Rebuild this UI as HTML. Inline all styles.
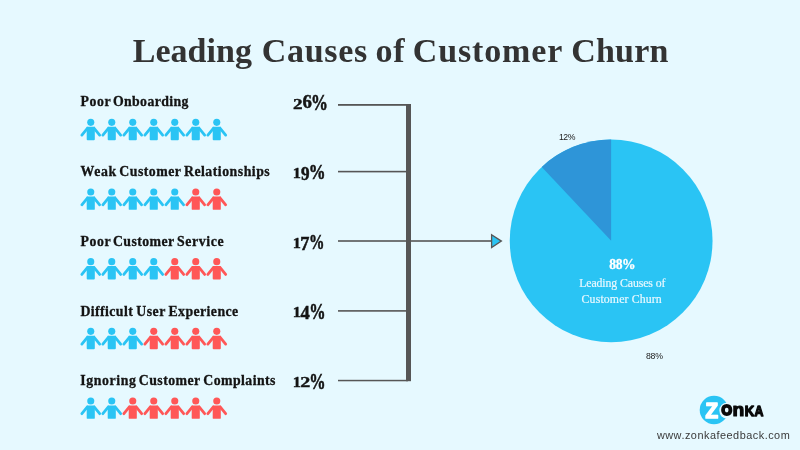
<!DOCTYPE html>
<html><head><meta charset="utf-8"><title>Leading Causes of Customer Churn</title>
<style>
html,body{margin:0;padding:0}
body{width:800px;height:450px;background:#e6f9ff;position:relative;overflow:hidden;font-family:"Liberation Serif",serif}
svg{position:absolute;left:0;top:0;display:block}
</style></head><body>
<svg width="800" height="450" viewBox="0 0 800 450">
<text x="132.75" y="62.25" font-family="'Liberation Serif',serif" font-weight="bold" font-size="34" letter-spacing="0.033" fill="#333" >Leading</text>
<text x="261.85" y="62.25" font-family="'Liberation Serif',serif" font-weight="bold" font-size="34" letter-spacing="0.680" fill="#333" >Causes</text>
<text x="375.6" y="62.25" font-family="'Liberation Serif',serif" font-weight="bold" font-size="34" letter-spacing="0.6" fill="#333">of</text>
<text x="412.75" y="62.25" font-family="'Liberation Serif',serif" font-weight="bold" font-size="34" letter-spacing="0.871" fill="#333" >Customer</text>
<text x="571.25" y="62.25" font-family="'Liberation Serif',serif" font-weight="bold" font-size="34" letter-spacing="0.175" fill="#333" >Churn</text>
<text x="80.45" y="106.20" font-family="'Liberation Serif',serif" font-weight="bold" font-size="13.8" letter-spacing="0.600" fill="#141414" stroke="#141414" stroke-width="0.3">Poor</text>
<text x="112.95" y="106.20" font-family="'Liberation Serif',serif" font-weight="bold" font-size="13.8" letter-spacing="0.367" fill="#141414" stroke="#141414" stroke-width="0.3">Onboarding</text>
<text transform="matrix(1.1286 0 0 0.8578 293.054 108.550)" x="0" y="0" font-family="'Liberation Serif',serif" font-weight="bold" font-size="17" fill="#141414" stroke="#141414" stroke-width="0.45">2</text>
<text transform="matrix(1.1067 0 0 1.0826 302.447 108.429)" x="0" y="0" font-family="'Liberation Serif',serif" font-weight="bold" font-size="17" fill="#141414" stroke="#141414" stroke-width="0.45">6</text>
<text transform="matrix(0.9964 0 0 1.3130 311.056 109.872)" x="0" y="0" font-family="'Liberation Serif',serif" font-weight="bold" font-size="17" fill="#141414" stroke="#141414" stroke-width="0.45">%</text>
<g transform="translate(90.76 122.35)" fill="#2ac4f4" stroke="#2ac4f4" stroke-width="0"><circle r="3.55"/><path d="M-4.05 4.45h8.1v12.5a0.9 0.9 0 0 1 -0.9 0.9h-6.3a0.9 0.9 0 0 1 -0.9 -0.9z"/><path d="M-3.4 6L-8.9 12.75M3.4 6L8.9 12.75" stroke-width="2.8" stroke-linecap="round" fill="none"/></g>
<g transform="translate(111.76 122.35)" fill="#2ac4f4" stroke="#2ac4f4" stroke-width="0"><circle r="3.55"/><path d="M-4.05 4.45h8.1v12.5a0.9 0.9 0 0 1 -0.9 0.9h-6.3a0.9 0.9 0 0 1 -0.9 -0.9z"/><path d="M-3.4 6L-8.9 12.75M3.4 6L8.9 12.75" stroke-width="2.8" stroke-linecap="round" fill="none"/></g>
<g transform="translate(132.76 122.35)" fill="#2ac4f4" stroke="#2ac4f4" stroke-width="0"><circle r="3.55"/><path d="M-4.05 4.45h8.1v12.5a0.9 0.9 0 0 1 -0.9 0.9h-6.3a0.9 0.9 0 0 1 -0.9 -0.9z"/><path d="M-3.4 6L-8.9 12.75M3.4 6L8.9 12.75" stroke-width="2.8" stroke-linecap="round" fill="none"/></g>
<g transform="translate(153.76 122.35)" fill="#2ac4f4" stroke="#2ac4f4" stroke-width="0"><circle r="3.55"/><path d="M-4.05 4.45h8.1v12.5a0.9 0.9 0 0 1 -0.9 0.9h-6.3a0.9 0.9 0 0 1 -0.9 -0.9z"/><path d="M-3.4 6L-8.9 12.75M3.4 6L8.9 12.75" stroke-width="2.8" stroke-linecap="round" fill="none"/></g>
<g transform="translate(174.76 122.35)" fill="#2ac4f4" stroke="#2ac4f4" stroke-width="0"><circle r="3.55"/><path d="M-4.05 4.45h8.1v12.5a0.9 0.9 0 0 1 -0.9 0.9h-6.3a0.9 0.9 0 0 1 -0.9 -0.9z"/><path d="M-3.4 6L-8.9 12.75M3.4 6L8.9 12.75" stroke-width="2.8" stroke-linecap="round" fill="none"/></g>
<g transform="translate(195.76 122.35)" fill="#2ac4f4" stroke="#2ac4f4" stroke-width="0"><circle r="3.55"/><path d="M-4.05 4.45h8.1v12.5a0.9 0.9 0 0 1 -0.9 0.9h-6.3a0.9 0.9 0 0 1 -0.9 -0.9z"/><path d="M-3.4 6L-8.9 12.75M3.4 6L8.9 12.75" stroke-width="2.8" stroke-linecap="round" fill="none"/></g>
<g transform="translate(216.76 122.35)" fill="#2ac4f4" stroke="#2ac4f4" stroke-width="0"><circle r="3.55"/><path d="M-4.05 4.45h8.1v12.5a0.9 0.9 0 0 1 -0.9 0.9h-6.3a0.9 0.9 0 0 1 -0.9 -0.9z"/><path d="M-3.4 6L-8.9 12.75M3.4 6L8.9 12.75" stroke-width="2.8" stroke-linecap="round" fill="none"/></g>
<text x="80.45" y="175.90" font-family="'Liberation Serif',serif" font-weight="bold" font-size="13.8" letter-spacing="0.683" fill="#141414" stroke="#141414" stroke-width="0.3">Weak</text>
<text x="119.25" y="175.90" font-family="'Liberation Serif',serif" font-weight="bold" font-size="13.8" letter-spacing="0.500" fill="#141414" stroke="#141414" stroke-width="0.3">Customer</text>
<text x="183.95" y="175.90" font-family="'Liberation Serif',serif" font-weight="bold" font-size="13.8" letter-spacing="0.504" fill="#141414" stroke="#141414" stroke-width="0.3">Relationships</text>
<text transform="matrix(0.9600 0 0 0.8711 292.700 178.000)" x="0" y="0" font-family="'Liberation Serif',serif" font-weight="bold" font-size="17" fill="#141414" stroke="#141414" stroke-width="0.45">1</text>
<text transform="matrix(1.0067 0 0 1.0478 300.947 179.588)" x="0" y="0" font-family="'Liberation Serif',serif" font-weight="bold" font-size="17" fill="#141414" stroke="#141414" stroke-width="0.45">9</text>
<text transform="matrix(0.9891 0 0 1.2783 308.769 179.180)" x="0" y="0" font-family="'Liberation Serif',serif" font-weight="bold" font-size="17" fill="#141414" stroke="#141414" stroke-width="0.45">%</text>
<g transform="translate(90.76 192.01)" fill="#2ac4f4" stroke="#2ac4f4" stroke-width="0"><circle r="3.55"/><path d="M-4.05 4.45h8.1v12.5a0.9 0.9 0 0 1 -0.9 0.9h-6.3a0.9 0.9 0 0 1 -0.9 -0.9z"/><path d="M-3.4 6L-8.9 12.75M3.4 6L8.9 12.75" stroke-width="2.8" stroke-linecap="round" fill="none"/></g>
<g transform="translate(111.76 192.01)" fill="#2ac4f4" stroke="#2ac4f4" stroke-width="0"><circle r="3.55"/><path d="M-4.05 4.45h8.1v12.5a0.9 0.9 0 0 1 -0.9 0.9h-6.3a0.9 0.9 0 0 1 -0.9 -0.9z"/><path d="M-3.4 6L-8.9 12.75M3.4 6L8.9 12.75" stroke-width="2.8" stroke-linecap="round" fill="none"/></g>
<g transform="translate(132.76 192.01)" fill="#2ac4f4" stroke="#2ac4f4" stroke-width="0"><circle r="3.55"/><path d="M-4.05 4.45h8.1v12.5a0.9 0.9 0 0 1 -0.9 0.9h-6.3a0.9 0.9 0 0 1 -0.9 -0.9z"/><path d="M-3.4 6L-8.9 12.75M3.4 6L8.9 12.75" stroke-width="2.8" stroke-linecap="round" fill="none"/></g>
<g transform="translate(153.76 192.01)" fill="#2ac4f4" stroke="#2ac4f4" stroke-width="0"><circle r="3.55"/><path d="M-4.05 4.45h8.1v12.5a0.9 0.9 0 0 1 -0.9 0.9h-6.3a0.9 0.9 0 0 1 -0.9 -0.9z"/><path d="M-3.4 6L-8.9 12.75M3.4 6L8.9 12.75" stroke-width="2.8" stroke-linecap="round" fill="none"/></g>
<g transform="translate(174.76 192.01)" fill="#2ac4f4" stroke="#2ac4f4" stroke-width="0"><circle r="3.55"/><path d="M-4.05 4.45h8.1v12.5a0.9 0.9 0 0 1 -0.9 0.9h-6.3a0.9 0.9 0 0 1 -0.9 -0.9z"/><path d="M-3.4 6L-8.9 12.75M3.4 6L8.9 12.75" stroke-width="2.8" stroke-linecap="round" fill="none"/></g>
<g transform="translate(195.76 192.01)" fill="#ff5757" stroke="#ff5757" stroke-width="0"><circle r="3.55"/><path d="M-4.05 4.45h8.1v12.5a0.9 0.9 0 0 1 -0.9 0.9h-6.3a0.9 0.9 0 0 1 -0.9 -0.9z"/><path d="M-3.4 6L-8.9 12.75M3.4 6L8.9 12.75" stroke-width="2.8" stroke-linecap="round" fill="none"/></g>
<g transform="translate(216.76 192.01)" fill="#ff5757" stroke="#ff5757" stroke-width="0"><circle r="3.55"/><path d="M-4.05 4.45h8.1v12.5a0.9 0.9 0 0 1 -0.9 0.9h-6.3a0.9 0.9 0 0 1 -0.9 -0.9z"/><path d="M-3.4 6L-8.9 12.75M3.4 6L8.9 12.75" stroke-width="2.8" stroke-linecap="round" fill="none"/></g>
<rect x="338" y="170.80" width="70" height="1.6" fill="#565656"/>
<text x="80.45" y="245.90" font-family="'Liberation Serif',serif" font-weight="bold" font-size="13.8" letter-spacing="0.600" fill="#141414" stroke="#141414" stroke-width="0.3">Poor</text>
<text x="112.95" y="245.90" font-family="'Liberation Serif',serif" font-weight="bold" font-size="13.8" letter-spacing="0.436" fill="#141414" stroke="#141414" stroke-width="0.3">Customer</text>
<text x="177.00" y="245.90" font-family="'Liberation Serif',serif" font-weight="bold" font-size="13.8" letter-spacing="0.617" fill="#141414" stroke="#141414" stroke-width="0.3">Service</text>
<text transform="matrix(0.9600 0 0 0.8711 292.700 247.600)" x="0" y="0" font-family="'Liberation Serif',serif" font-weight="bold" font-size="17" fill="#141414" stroke="#141414" stroke-width="0.45">1</text>
<text transform="matrix(1.0786 0 0 1.0636 300.371 249.500)" x="0" y="0" font-family="'Liberation Serif',serif" font-weight="bold" font-size="17" fill="#141414" stroke="#141414" stroke-width="0.45">7</text>
<text transform="matrix(0.9091 0 0 1.2783 308.909 248.780)" x="0" y="0" font-family="'Liberation Serif',serif" font-weight="bold" font-size="17" fill="#141414" stroke="#141414" stroke-width="0.45">%</text>
<g transform="translate(90.76 261.67)" fill="#2ac4f4" stroke="#2ac4f4" stroke-width="0"><circle r="3.55"/><path d="M-4.05 4.45h8.1v12.5a0.9 0.9 0 0 1 -0.9 0.9h-6.3a0.9 0.9 0 0 1 -0.9 -0.9z"/><path d="M-3.4 6L-8.9 12.75M3.4 6L8.9 12.75" stroke-width="2.8" stroke-linecap="round" fill="none"/></g>
<g transform="translate(111.76 261.67)" fill="#2ac4f4" stroke="#2ac4f4" stroke-width="0"><circle r="3.55"/><path d="M-4.05 4.45h8.1v12.5a0.9 0.9 0 0 1 -0.9 0.9h-6.3a0.9 0.9 0 0 1 -0.9 -0.9z"/><path d="M-3.4 6L-8.9 12.75M3.4 6L8.9 12.75" stroke-width="2.8" stroke-linecap="round" fill="none"/></g>
<g transform="translate(132.76 261.67)" fill="#2ac4f4" stroke="#2ac4f4" stroke-width="0"><circle r="3.55"/><path d="M-4.05 4.45h8.1v12.5a0.9 0.9 0 0 1 -0.9 0.9h-6.3a0.9 0.9 0 0 1 -0.9 -0.9z"/><path d="M-3.4 6L-8.9 12.75M3.4 6L8.9 12.75" stroke-width="2.8" stroke-linecap="round" fill="none"/></g>
<g transform="translate(153.76 261.67)" fill="#2ac4f4" stroke="#2ac4f4" stroke-width="0"><circle r="3.55"/><path d="M-4.05 4.45h8.1v12.5a0.9 0.9 0 0 1 -0.9 0.9h-6.3a0.9 0.9 0 0 1 -0.9 -0.9z"/><path d="M-3.4 6L-8.9 12.75M3.4 6L8.9 12.75" stroke-width="2.8" stroke-linecap="round" fill="none"/></g>
<g transform="translate(174.76 261.67)" fill="#ff5757" stroke="#ff5757" stroke-width="0"><circle r="3.55"/><path d="M-4.05 4.45h8.1v12.5a0.9 0.9 0 0 1 -0.9 0.9h-6.3a0.9 0.9 0 0 1 -0.9 -0.9z"/><path d="M-3.4 6L-8.9 12.75M3.4 6L8.9 12.75" stroke-width="2.8" stroke-linecap="round" fill="none"/></g>
<g transform="translate(195.76 261.67)" fill="#ff5757" stroke="#ff5757" stroke-width="0"><circle r="3.55"/><path d="M-4.05 4.45h8.1v12.5a0.9 0.9 0 0 1 -0.9 0.9h-6.3a0.9 0.9 0 0 1 -0.9 -0.9z"/><path d="M-3.4 6L-8.9 12.75M3.4 6L8.9 12.75" stroke-width="2.8" stroke-linecap="round" fill="none"/></g>
<g transform="translate(216.76 261.67)" fill="#ff5757" stroke="#ff5757" stroke-width="0"><circle r="3.55"/><path d="M-4.05 4.45h8.1v12.5a0.9 0.9 0 0 1 -0.9 0.9h-6.3a0.9 0.9 0 0 1 -0.9 -0.9z"/><path d="M-3.4 6L-8.9 12.75M3.4 6L8.9 12.75" stroke-width="2.8" stroke-linecap="round" fill="none"/></g>
<rect x="338" y="240.20" width="154" height="1.6" fill="#565656"/>
<text x="80.45" y="315.60" font-family="'Liberation Serif',serif" font-weight="bold" font-size="13.8" letter-spacing="0.412" fill="#141414" stroke="#141414" stroke-width="0.3">Difficult</text>
<text x="136.25" y="315.60" font-family="'Liberation Serif',serif" font-weight="bold" font-size="13.8" letter-spacing="0.500" fill="#141414" stroke="#141414" stroke-width="0.3">User</text>
<text x="168.50" y="315.60" font-family="'Liberation Serif',serif" font-weight="bold" font-size="13.8" letter-spacing="0.417" fill="#141414" stroke="#141414" stroke-width="0.3">Experience</text>
<text transform="matrix(0.9600 0 0 0.8533 292.700 317.400)" x="0" y="0" font-family="'Liberation Serif',serif" font-weight="bold" font-size="17" fill="#141414" stroke="#141414" stroke-width="0.45">1</text>
<text transform="matrix(1.0875 0 0 1.0489 300.428 319.200)" x="0" y="0" font-family="'Liberation Serif',serif" font-weight="bold" font-size="17" fill="#141414" stroke="#141414" stroke-width="0.45">4</text>
<text transform="matrix(0.9600 0 0 1.2957 309.220 318.776)" x="0" y="0" font-family="'Liberation Serif',serif" font-weight="bold" font-size="17" fill="#141414" stroke="#141414" stroke-width="0.45">%</text>
<g transform="translate(90.76 331.33)" fill="#2ac4f4" stroke="#2ac4f4" stroke-width="0"><circle r="3.55"/><path d="M-4.05 4.45h8.1v12.5a0.9 0.9 0 0 1 -0.9 0.9h-6.3a0.9 0.9 0 0 1 -0.9 -0.9z"/><path d="M-3.4 6L-8.9 12.75M3.4 6L8.9 12.75" stroke-width="2.8" stroke-linecap="round" fill="none"/></g>
<g transform="translate(111.76 331.33)" fill="#2ac4f4" stroke="#2ac4f4" stroke-width="0"><circle r="3.55"/><path d="M-4.05 4.45h8.1v12.5a0.9 0.9 0 0 1 -0.9 0.9h-6.3a0.9 0.9 0 0 1 -0.9 -0.9z"/><path d="M-3.4 6L-8.9 12.75M3.4 6L8.9 12.75" stroke-width="2.8" stroke-linecap="round" fill="none"/></g>
<g transform="translate(132.76 331.33)" fill="#2ac4f4" stroke="#2ac4f4" stroke-width="0"><circle r="3.55"/><path d="M-4.05 4.45h8.1v12.5a0.9 0.9 0 0 1 -0.9 0.9h-6.3a0.9 0.9 0 0 1 -0.9 -0.9z"/><path d="M-3.4 6L-8.9 12.75M3.4 6L8.9 12.75" stroke-width="2.8" stroke-linecap="round" fill="none"/></g>
<g transform="translate(153.76 331.33)" fill="#ff5757" stroke="#ff5757" stroke-width="0"><circle r="3.55"/><path d="M-4.05 4.45h8.1v12.5a0.9 0.9 0 0 1 -0.9 0.9h-6.3a0.9 0.9 0 0 1 -0.9 -0.9z"/><path d="M-3.4 6L-8.9 12.75M3.4 6L8.9 12.75" stroke-width="2.8" stroke-linecap="round" fill="none"/></g>
<g transform="translate(174.76 331.33)" fill="#ff5757" stroke="#ff5757" stroke-width="0"><circle r="3.55"/><path d="M-4.05 4.45h8.1v12.5a0.9 0.9 0 0 1 -0.9 0.9h-6.3a0.9 0.9 0 0 1 -0.9 -0.9z"/><path d="M-3.4 6L-8.9 12.75M3.4 6L8.9 12.75" stroke-width="2.8" stroke-linecap="round" fill="none"/></g>
<g transform="translate(195.76 331.33)" fill="#ff5757" stroke="#ff5757" stroke-width="0"><circle r="3.55"/><path d="M-4.05 4.45h8.1v12.5a0.9 0.9 0 0 1 -0.9 0.9h-6.3a0.9 0.9 0 0 1 -0.9 -0.9z"/><path d="M-3.4 6L-8.9 12.75M3.4 6L8.9 12.75" stroke-width="2.8" stroke-linecap="round" fill="none"/></g>
<g transform="translate(216.76 331.33)" fill="#ff5757" stroke="#ff5757" stroke-width="0"><circle r="3.55"/><path d="M-4.05 4.45h8.1v12.5a0.9 0.9 0 0 1 -0.9 0.9h-6.3a0.9 0.9 0 0 1 -0.9 -0.9z"/><path d="M-3.4 6L-8.9 12.75M3.4 6L8.9 12.75" stroke-width="2.8" stroke-linecap="round" fill="none"/></g>
<rect x="338" y="310.10" width="70" height="1.6" fill="#565656"/>
<text x="80.20" y="385.30" font-family="'Liberation Serif',serif" font-weight="bold" font-size="13.8" letter-spacing="0.614" fill="#141414" stroke="#141414" stroke-width="0.3">Ignoring</text>
<text x="138.75" y="385.30" font-family="'Liberation Serif',serif" font-weight="bold" font-size="13.8" letter-spacing="0.464" fill="#141414" stroke="#141414" stroke-width="0.3">Customer</text>
<text x="203.25" y="385.30" font-family="'Liberation Serif',serif" font-weight="bold" font-size="13.8" letter-spacing="0.444" fill="#141414" stroke="#141414" stroke-width="0.3">Complaints</text>
<text transform="matrix(0.9600 0 0 0.8533 292.700 387.400)" x="0" y="0" font-family="'Liberation Serif',serif" font-weight="bold" font-size="17" fill="#141414" stroke="#141414" stroke-width="0.45">1</text>
<text transform="matrix(1.1857 0 0 0.8711 300.211 387.400)" x="0" y="0" font-family="'Liberation Serif',serif" font-weight="bold" font-size="17" fill="#141414" stroke="#141414" stroke-width="0.45">2</text>
<text transform="matrix(0.9600 0 0 1.2957 309.220 388.776)" x="0" y="0" font-family="'Liberation Serif',serif" font-weight="bold" font-size="17" fill="#141414" stroke="#141414" stroke-width="0.45">%</text>
<g transform="translate(90.76 400.99)" fill="#2ac4f4" stroke="#2ac4f4" stroke-width="0"><circle r="3.55"/><path d="M-4.05 4.45h8.1v12.5a0.9 0.9 0 0 1 -0.9 0.9h-6.3a0.9 0.9 0 0 1 -0.9 -0.9z"/><path d="M-3.4 6L-8.9 12.75M3.4 6L8.9 12.75" stroke-width="2.8" stroke-linecap="round" fill="none"/></g>
<g transform="translate(111.76 400.99)" fill="#2ac4f4" stroke="#2ac4f4" stroke-width="0"><circle r="3.55"/><path d="M-4.05 4.45h8.1v12.5a0.9 0.9 0 0 1 -0.9 0.9h-6.3a0.9 0.9 0 0 1 -0.9 -0.9z"/><path d="M-3.4 6L-8.9 12.75M3.4 6L8.9 12.75" stroke-width="2.8" stroke-linecap="round" fill="none"/></g>
<g transform="translate(132.76 400.99)" fill="#ff5757" stroke="#ff5757" stroke-width="0"><circle r="3.55"/><path d="M-4.05 4.45h8.1v12.5a0.9 0.9 0 0 1 -0.9 0.9h-6.3a0.9 0.9 0 0 1 -0.9 -0.9z"/><path d="M-3.4 6L-8.9 12.75M3.4 6L8.9 12.75" stroke-width="2.8" stroke-linecap="round" fill="none"/></g>
<g transform="translate(153.76 400.99)" fill="#ff5757" stroke="#ff5757" stroke-width="0"><circle r="3.55"/><path d="M-4.05 4.45h8.1v12.5a0.9 0.9 0 0 1 -0.9 0.9h-6.3a0.9 0.9 0 0 1 -0.9 -0.9z"/><path d="M-3.4 6L-8.9 12.75M3.4 6L8.9 12.75" stroke-width="2.8" stroke-linecap="round" fill="none"/></g>
<g transform="translate(174.76 400.99)" fill="#ff5757" stroke="#ff5757" stroke-width="0"><circle r="3.55"/><path d="M-4.05 4.45h8.1v12.5a0.9 0.9 0 0 1 -0.9 0.9h-6.3a0.9 0.9 0 0 1 -0.9 -0.9z"/><path d="M-3.4 6L-8.9 12.75M3.4 6L8.9 12.75" stroke-width="2.8" stroke-linecap="round" fill="none"/></g>
<g transform="translate(195.76 400.99)" fill="#ff5757" stroke="#ff5757" stroke-width="0"><circle r="3.55"/><path d="M-4.05 4.45h8.1v12.5a0.9 0.9 0 0 1 -0.9 0.9h-6.3a0.9 0.9 0 0 1 -0.9 -0.9z"/><path d="M-3.4 6L-8.9 12.75M3.4 6L8.9 12.75" stroke-width="2.8" stroke-linecap="round" fill="none"/></g>
<g transform="translate(216.76 400.99)" fill="#ff5757" stroke="#ff5757" stroke-width="0"><circle r="3.55"/><path d="M-4.05 4.45h8.1v12.5a0.9 0.9 0 0 1 -0.9 0.9h-6.3a0.9 0.9 0 0 1 -0.9 -0.9z"/><path d="M-3.4 6L-8.9 12.75M3.4 6L8.9 12.75" stroke-width="2.8" stroke-linecap="round" fill="none"/></g>
<rect x="338" y="104" width="70" height="1.8" fill="#565656"/>
<rect x="338" y="379.8" width="70" height="1.5" fill="#565656"/>
<rect x="406" y="104" width="5" height="277.2" fill="#565656"/>
<path d="M491.6 234.8L501.4 241.1L491.6 247.6Z" fill="#2ac4f4" stroke="#565656" stroke-width="1.3" stroke-linejoin="miter"/>
<circle cx="611.15" cy="240.85" r="101.4" fill="#2ac4f4"/>
<path d="M611.15 240.85L611.15 139.45A101.4 101.4 0 0 0 541.74 166.93Z" fill="#2e95d8"/>
<text x="609.20" y="268.60" font-family="'Liberation Serif',serif" font-weight="bold" font-size="13.6" letter-spacing="-0.350" fill="#fff" stroke="#fff" stroke-width="0.3">88%</text>
<text x="579.15" y="286.50" font-family="'Liberation Serif',serif" font-weight="normal" font-size="11.8" letter-spacing="-0.094" fill="#e8f8ff" stroke="#e8f8ff" stroke-width="0.2">Leading Causes of</text>
<text x="581.60" y="302.80" font-family="'Liberation Serif',serif" font-weight="normal" font-size="11.8" letter-spacing="0.142" fill="#e8f8ff" stroke="#e8f8ff" stroke-width="0.2">Customer Churn</text>
<text x="559.00" y="140.10" font-family="'Liberation Sans',sans-serif" font-weight="normal" font-size="8.7" letter-spacing="-0.500" fill="#222" >12%</text>
<text x="646.00" y="359.20" font-family="'Liberation Sans',sans-serif" font-weight="normal" font-size="8.7" letter-spacing="-0.250" fill="#222" >88%</text>
<circle cx="714" cy="410" r="14.3" fill="#2ac4f4"/>
<ellipse cx="726.75" cy="410.6" rx="7.4" ry="7.9" fill="#e6f9ff"/>
<text transform="matrix(0.9333 0 0 0.9933 705.550 418.050)" x="0" y="0" font-family="'Liberation Sans',sans-serif" font-weight="bold" font-size="22" fill="#fff" stroke="#fff" stroke-width="1.7" stroke-linejoin="round">Z</text>
<text transform="matrix(0.7915 0 0 0.8500 721.506 415.488)" x="0" y="0" font-family="'Liberation Sans',sans-serif" font-weight="bold" font-size="17" fill="#0a0a0a" stroke="#0a0a0a" stroke-width="2.4" stroke-linejoin="round">O</text>
<text transform="matrix(0.9200 0 0 0.8978 732.570 415.650)" x="0" y="0" font-family="'Liberation Sans',sans-serif" font-weight="bold" font-size="21" fill="#0a0a0a" stroke="#0a0a0a" stroke-width="1.3" stroke-linejoin="round">n</text>
<text transform="matrix(0.8195 0 0 0.9091 744.680 415.600)" x="0" y="0" font-family="'Liberation Sans',sans-serif" font-weight="bold" font-size="16" fill="#0a0a0a" stroke="#0a0a0a" stroke-width="1.4" stroke-linejoin="round">K</text>
<text transform="matrix(0.7714 0 0 0.9000 754.564 415.550)" x="0" y="0" font-family="'Liberation Sans',sans-serif" font-weight="bold" font-size="16" fill="#0a0a0a" stroke="#0a0a0a" stroke-width="1.5" stroke-linejoin="round">A</text>
<text x="656.90" y="439.00" font-family="'Liberation Sans',sans-serif" font-weight="normal" font-size="10.9" letter-spacing="0.498" fill="#3a3a3a" >www.zonkafeedback.com</text>
</svg>
</body></html>
